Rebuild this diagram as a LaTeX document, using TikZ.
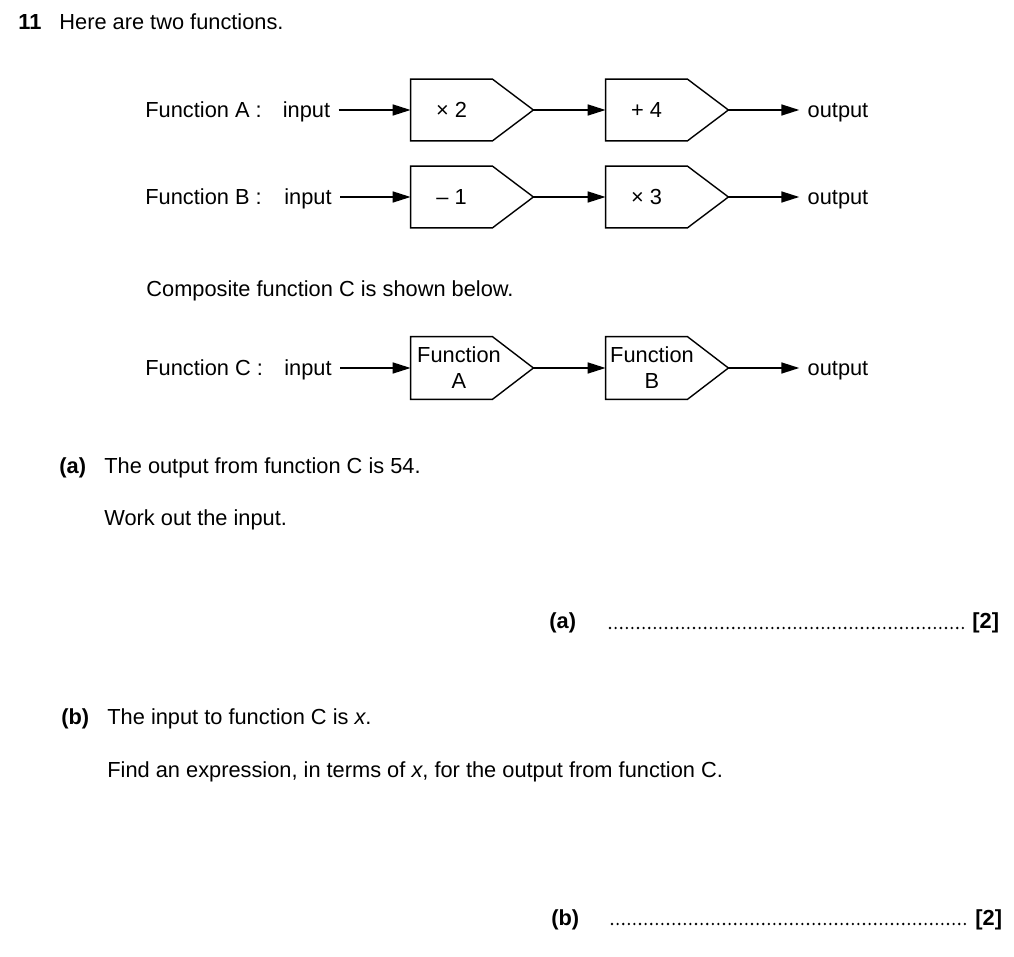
\documentclass[tikz,border=0pt]{standalone}
\usepackage{fontspec}
\setmainfont{Liberation Sans}
\usetikzlibrary{arrows.meta,positioning,calc}
\tikzset{
	every node/.style={font=\fontsize{10.9}{13}\selectfont},
	%
	stage/.style={
		rectangle, minimum width=40.5pt, minimum height=30.5pt, inner sep=0pt
	},
	%
	word/.style={
		inner xsep=4pt, inner ysep=0pt, text height=0.716em, text depth=0pt
	},
	%
	para/.style={
		anchor=base west, inner sep=0pt
	},
	%
	flow/.style={
		-{Triangle[length=9pt,width=5.5pt]}, line width=0.85pt
	},
	%
	answerline/.style={
		line width=1.3pt, line cap=round, dash pattern=on 0pt off 2.8pt
	}
}
% pentagon round a stage node, tip named <node>tip
\newcommand{\stageoutline}[1]{
	\draw[line width=0.7pt] (#1.north west) -- (#1.north east) -- ([xshift=20.5pt]#1.east) coordinate (#1tip) -- (#1.south east) -- (#1.south west) -- cycle;
}
\begin{document}
\begin{tikzpicture}[x=0.5pt,y=-0.5pt]
    \useasboundingbox (0,0) rectangle (1014,957);
    \node(qnum)[para] at (18,30){\textbf{11}};
    \node(intro)[para] at (59,30){Here are two functions.};
    % function A
    \node(fA)[word, anchor=west, inner xsep=0pt] at (145,110){Function A :};
    \node(inA)[word] at (306.5,110){input};
    \node(a1)[stage] at (451.5,110){× 2};
    \node(a2)[stage] at (646.5,110){+ 4};
    \node(outA)[word] at (838,110){output};
    \stageoutline{a1}
    \stageoutline{a2}
    \draw[flow] (inA) -- (a1.west);
    \draw[flow] (a1tip) -- (a2.west);
    \draw[flow] (a2tip) -- (outA.west);
    % function B
    \node(fB)[word, anchor=west, inner xsep=0pt] at (145,197){Function B :};
    \node(inB)[word] at (308,197){input};
    \node(b1)[stage] at (451.5,197){\textendash{} 1};
    \node(b2)[stage] at (646.5,197){× 3};
    \node(outB)[word] at (838,197){output};
    \stageoutline{b1}
    \stageoutline{b2}
    \draw[flow] (inB) -- (b1.west);
    \draw[flow] (b1tip) -- (b2.west);
    \draw[flow] (b2tip) -- (outB.west);
    \node(comp)[para] at (146,297){Composite function C is shown below.};
    % function C
    \node(fC)[word, anchor=west, inner xsep=0pt] at (145,368){Function C :};
    \node(inC)[word] at (308,368){input};
    \node(c1)[stage, minimum height=31pt] at (451.5,368){};
    \node(c2)[stage, minimum height=31pt] at (646.5,368){};
    \node(c1text)[align=center, inner sep=0pt] at ([xshift=3.75pt]c1.center){Function\\A};
    \node(c2text)[align=center, inner sep=0pt] at ([xshift=2.75pt]c2.center){Function\\B};
    \node(outC)[word] at (838,368){output};
    \stageoutline{c1}
    \stageoutline{c2}
    \draw[flow] (inC) -- (c1.west);
    \draw[flow] (c1tip) -- (c2.west);
    \draw[flow] (c2tip) -- (outC.west);
    % part (a)
    \node(pa)[para] at (59,474){\textbf{(a)}};
    \node(patext)[para] at (104,474){The output from function C is 54.};
    \node(pawork)[para] at (104,526){Work out the input.};
    \node(ansa)[para] at (549,629){\textbf{(a)}};
    \node(marka)[para] at (972,629){\textbf{[2]}};
    \draw[answerline] (610,628) -- (966,628);
    % part (b)
    \node(pb)[para] at (61,725){\textbf{(b)}};
    \node(pbtext)[para] at (107,725){The input to function C is \textit{x}.};
    \node(pbfind)[para] at (107,777){Find an expression, in terms of \textit{x}, for the output from function C.};
    \node(ansb)[para] at (551,925){\textbf{(b)}};
    \node(markb)[para] at (975,925){\textbf{[2]}};
    \draw[answerline] (612,924) -- (967,924);
\end{tikzpicture}
\end{document}
